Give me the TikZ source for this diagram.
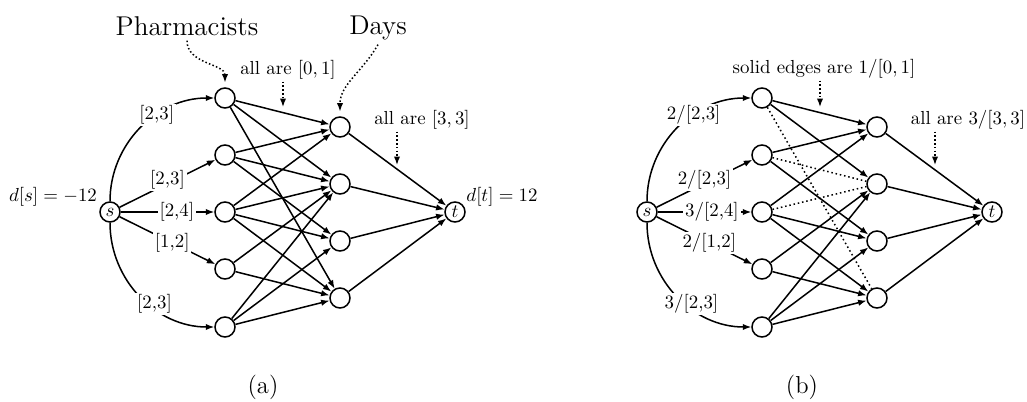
\documentclass[tikz,border=0pt]{standalone}
\usetikzlibrary{arrows.meta}
\begin{document}
\begin{tikzpicture}[x=0.53pt,y=0.53pt,
  vtx/.style={circle,draw,line width=0.8pt,minimum size=10.6pt,inner sep=0pt},
  edge/.style={line width=0.8pt,-{Latex[length=4.5pt,width=3.4pt]}},
  dotedge/.style={line width=0.8pt,dash pattern=on 0.8pt off 1.5pt},
  pointer/.style={line width=0.8pt,dash pattern=on 0.8pt off 1.2pt,-{Latex[length=4.5pt,width=3.4pt]}},
  elab/.style={fill=white,inner sep=1pt},
  note/.style={inner sep=1pt},
  title/.style={font=\Large,inner sep=2.5pt},
  caption/.style={font=\fontsize{13}{15}\selectfont}]
\useasboundingbox (0,0) rectangle (1027,401);

% ---------------- panel (a) ----------------
\node[vtx] (as) at (110,189) {$s$};
\node[vtx] (ap1) at (225,303) {};
\node[vtx] (ap2) at (225,246) {};
\node[vtx] (ap3) at (225,189) {};
\node[vtx] (ap4) at (225,132) {};
\node[vtx] (ap5) at (225,74) {};
\node[vtx] (ad1) at (340,274) {};
\node[vtx] (ad2) at (340,217) {};
\node[vtx] (ad3) at (340,160) {};
\node[vtx] (ad4) at (340,103) {};
\node[vtx] (at) at (455,189) {$t$};

\foreach \p/\d in {1/1,1/2,1/4,2/1,2/2,2/3,3/1,3/2,3/3,3/4,4/2,4/4,5/2,5/3,5/4}
  \draw[edge] (ap\p) -- (ad\d);
\foreach \d in {1,...,4}
  \draw[edge] (ad\d) -- (at);

\draw[edge] (as) to[out=90,in=180] node[elab,pos=0.63] {[2,3]} (ap1);
\draw[edge] (as) -- node[elab,pos=0.5,yshift=2pt] {[2,3]} (ap2);
\draw[edge] (as) -- node[elab,pos=0.6] {[2,4]} (ap3);
\draw[edge] (as) -- node[elab,pos=0.55] {[1,2]} (ap4);
\draw[edge] (as) to[out=-90,in=180] node[elab,pos=0.57,xshift=3pt] {[2,3]} (ap5);

\node (ads) at (53,204) {$d[s]=-12$};
\node (adt) at (502,204) {$d[t]=12$};
\node[title] (apharm) at (187,375) {Pharmacists};
\node[title] (adays) at (378,373.5) {Days};
\draw[pointer,shorten >=2.5pt] (apharm.south) to[out=-90,in=90] (ap1);
\draw[pointer,shorten >=2.5pt] (adays.south) to[out=-120,in=90] (ad1);

\node[note] (aall01) at (288,331) {all are $[0,1]$};
\coordinate (aptr01) at (283,294);
\draw[pointer] (aall01.south -| aptr01) -- (aptr01);
\node[note] (aall33) at (422,281) {all are $[3,3]$};
\coordinate (aptr33) at (397,236);
\draw[pointer] (aall33.south -| aptr33) -- (aptr33);

\node[caption] (acap) at (263,14) {(a)};

% ---------------- panel (b) ----------------
\begin{scope}[shift={(537,0)}]
\node[vtx] (bs) at (110,189) {$s$};
\node[vtx] (bp1) at (225,303) {};
\node[vtx] (bp2) at (225,246) {};
\node[vtx] (bp3) at (225,189) {};
\node[vtx] (bp4) at (225,132) {};
\node[vtx] (bp5) at (225,74) {};
\node[vtx] (bd1) at (340,274) {};
\node[vtx] (bd2) at (340,217) {};
\node[vtx] (bd3) at (340,160) {};
\node[vtx] (bd4) at (340,103) {};
\node[vtx] (bt) at (455,189) {$t$};

\foreach \p/\d in {1/1,1/2,2/1,2/3,3/1,3/3,3/4,4/2,4/4,5/2,5/3,5/4}
  \draw[edge] (bp\p) -- (bd\d);
\foreach \p/\d in {1/4,2/2,3/2}
  \draw[dotedge] (bp\p) -- (bd\d);
\foreach \d in {1,...,4}
  \draw[edge] (bd\d) -- (bt);

\draw[edge] (bs) to[out=90,in=180] node[elab,pos=0.63] {2/[2,3]} (bp1);
\draw[edge] (bs) -- node[elab,pos=0.5,yshift=2pt] {2/[2,3]} (bp2);
\draw[edge] (bs) -- node[elab,pos=0.58] {3/[2,4]} (bp3);
\draw[edge] (bs) -- node[elab,pos=0.55] {2/[1,2]} (bp4);
\draw[edge] (bs) to[out=-90,in=180] node[elab,pos=0.57,xshift=3pt] {3/[2,3]} (bp5);

\node[note] (ball01) at (287,332) {solid edges are $1/[0,1]$};
\coordinate (bptr01) at (283,294);
\draw[pointer] (ball01.south -| bptr01) -- (bptr01);
\node[note] (ball33) at (431,281) {all are $3/[3,3]$};
\coordinate (bptr33) at (398,236);
\draw[pointer] (ball33.south -| bptr33) -- (bptr33);

\node[caption] (bcap) at (265,14) {(b)};
\end{scope}
\end{tikzpicture}
\end{document}
